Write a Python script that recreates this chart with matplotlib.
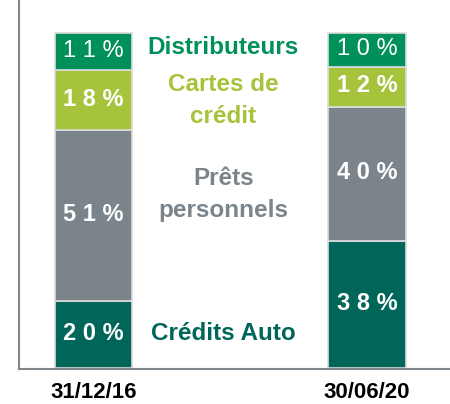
import matplotlib
matplotlib.use("Agg")
import matplotlib.pyplot as plt
import numpy as np

plt.rcParams['font.family'] = ['Liberation Sans', 'DejaVu Sans']

dates = ["31/12/16", "30/06/20"]
categories = ["Crédits Auto", "Prêts personnels", "Cartes de crédit", "Distributeurs"]
cat_labels = ["Crédits Auto", "Prêts\npersonnels", "Cartes de\ncrédit", "Distributeurs"]
values = {
    "Crédits Auto": [20, 38],
    "Prêts personnels": [51, 40],
    "Cartes de crédit": [18, 12],
    "Distributeurs": [11, 10],
}
colors = ["#00665A", "#7A848A", "#A5C33B", "#00915A"]
label_weights = {
    "Crédits Auto": ["bold", "bold"],
    "Prêts personnels": ["bold", "bold"],
    "Cartes de crédit": ["bold", "bold"],
    "Distributeurs": ["normal", "normal"],
}
cat_label_y = [10.4, 52.0, 80.0, 95.8]

fig = plt.figure(figsize=(4.5, 4.04), dpi=100)
ax = fig.add_axes([19/450, 1 - 369/404, 431/450, 369/404])

x = np.arange(len(dates))
bottom = np.zeros(len(dates))
for cat, col in zip(categories, colors):
    vals = np.array(values[cat], dtype=float)
    ax.bar(x, vals, width=0.282, bottom=bottom, color=col,
           edgecolor="#dcdcdc", linewidth=1.2)
    for i, v in enumerate(vals):
        digits = " ".join(list(str(int(v)))) + " %"
        ax.text(x[i], bottom[i] + v / 2 + 0.3, digits, ha="center", va="center",
                color="white", fontsize=17, fontweight=label_weights[cat][i])
    bottom += vals

for lab, col, yy in zip(cat_labels, colors, cat_label_y):
    ax.text(0.475, yy, lab, ha="center", va="center", color=col,
            fontsize=17.5, fontweight="bold", linespacing=1.5)

ax.set_xlim(-0.272, 1.303)
ax.set_ylim(-0.3, 110)
ax.set_xticks(x)
ax.set_xticklabels(dates, fontsize=16, fontweight="bold")
ax.set_yticks([])
ax.tick_params(axis="x", length=0, pad=9)
for s in ["top", "right"]:
    ax.spines[s].set_visible(False)
for s in ["left", "bottom"]:
    ax.spines[s].set_color("#7f878c")
    ax.spines[s].set_linewidth(1.5)

fig.savefig("out.png", dpi=100)
